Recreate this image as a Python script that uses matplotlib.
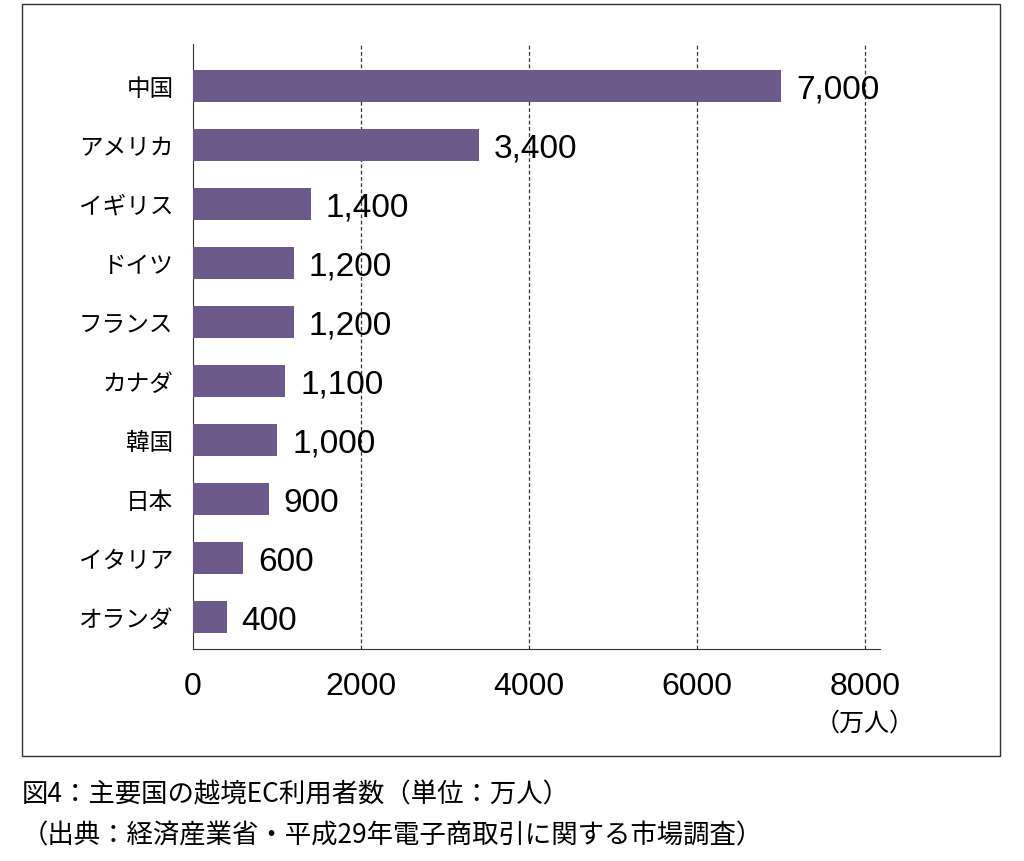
import matplotlib
matplotlib.use("Agg")
import matplotlib.pyplot as plt
from matplotlib.patches import Rectangle

categories = ["中国", "アメリカ", "イギリス", "ドイツ", "フランス", "カナダ", "韓国", "日本", "イタリア", "オランダ"]
values = [7000, 3400, 1400, 1200, 1200, 1100, 1000, 900, 600, 400]
value_labels = ["7,000", "3,400", "1,400", "1,200", "1,200", "1,100", "1,000", "900", "600", "400"]
xticks = [0, 2000, 4000, 6000, 8000]

plt.rcParams["font.family"] = "Noto Sans CJK JP"
fig = plt.figure(figsize=(10.24, 8.62), dpi=100)
fig.patches.append(Rectangle((22/1024, 1-757/862), 978/1024, 752/862, transform=fig.transFigure,
                             fill=False, edgecolor="#333333", lw=1))
ax = fig.add_axes([193/1024, 1-650/862, 687/1024, 605/862])
n = len(categories)
ys = list(range(n))
ax.barh(ys, values, height=0.54, color="#6b5a8a", zorder=3)
ax.set_ylim(n - 1 + 0.54, -0.71)
ax.set_xlim(0, 8000 * 687 / 672)
for x in xticks[1:]:
    ax.axvline(x, color="#333333", ls=(0, (3, 2)), lw=0.9, zorder=1)
for y, v, l in zip(ys, values, value_labels):
    ax.text(v + 180, y + 0.05, l, va="center", ha="left", fontsize=24, fontfamily="Liberation Sans")
ax.set_yticks(ys)
ax.set_yticklabels(categories, fontsize=17)
ax.set_xticks(xticks)
ax.set_xticklabels([str(t) for t in xticks], fontsize=23, fontfamily="Liberation Sans")
ax.tick_params(length=0, pad=14)
ax.tick_params(axis="x", pad=16)
for s in ["top", "right"]:
    ax.spines[s].set_visible(False)
ax.spines["left"].set_color("#333333")
ax.spines["bottom"].set_color("#333333")
fig.text(865/1024, 1-724/862, "（万人）", ha="center", va="center", fontsize=18)
fig.text(22/1024, 1-795/862, "図4：主要国の越境EC利用者数（単位：万人）", ha="left", va="center", fontsize=19)
fig.text(22/1024, 1-836/862, "（出典：経済産業省・平成29年電子商取引に関する市場調査）", ha="left", va="center", fontsize=19)
fig.savefig("out.png", dpi=100)
